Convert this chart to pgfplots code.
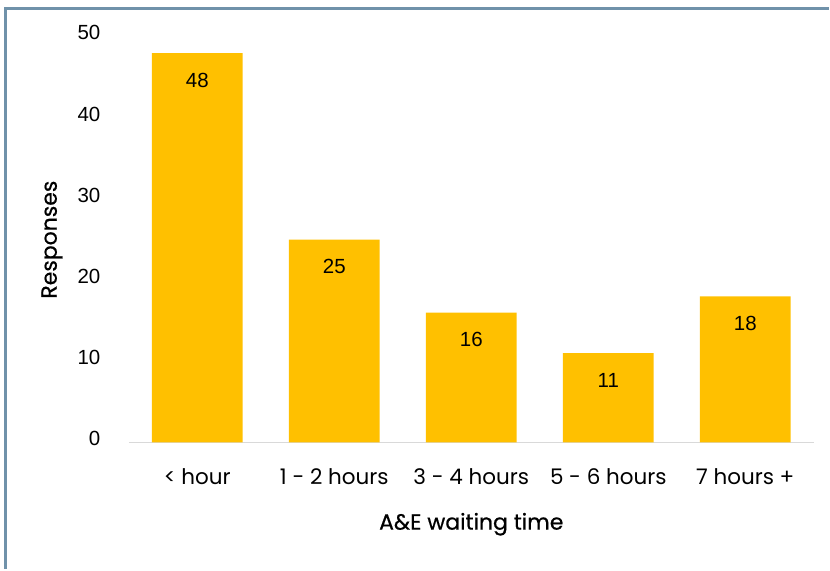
\documentclass[border=0pt]{standalone}
\usepackage{pgfplots}
\pgfplotsset{compat=1.18}
\usepackage{fontspec}
\setmainfont{Poppins}
\newfontfamily\arialf{Liberation Sans}
\newfontfamily\medf{Poppins}[FakeBold=0.6]
\definecolor{barc}{RGB}{255,192,0}
\definecolor{gridc}{RGB}{217,217,217}
\definecolor{framec}{RGB}{112,146,170}
\begin{document}
\begin{tikzpicture}
\begin{axis}[
  scale only axis, width=686pt, height=406pt,
  xmin=-0.5, xmax=4.5, ymin=0, ymax=50,
  ybar, bar width=0.663,
  bar shift=0pt,
  axis x line*=bottom, axis y line=none,
  x axis line style={gridc, line width=1pt},
  ytick={0,10,20,30,40,50},
  ymajorgrids, grid style={gridc, line width=1pt},
  major tick length=0pt,
  xtick={0,1,2,3,4},
  xticklabels={< hour, 1 - 2 hours, 3 - 4 hours, 5 - 6 hours, 7 hours +},
  x tick label style={font=\fontsize{21.5}{24}\selectfont, anchor=center, yshift=-34pt},
  /pgf/number format/assume math mode=true,
  enlargelimits=false, clip=false,
  nodes near coords,
  nodes near coords style={font=\arialf\fontsize{20.5}{24}\selectfont, anchor=center, yshift=-27pt},
]
\addplot[fill=barc, draw=none] coordinates {(0,48) (1,25) (2,16) (3,11) (4,18)};
\pgfplotsinvokeforeach{0,10,20,30,40,50}{
  \node[anchor=east, font=\arialf\fontsize{20.5}{24}\selectfont] at (axis cs:-0.5,#1) [xshift=-25pt, yshift=4pt] {#1};
}
\path (axis cs:-1.4402,54.557) rectangle (axis cs:4.6093,-15.64);
\draw[framec, line width=2.5pt] (axis cs:-1.4001,-15.64) -- (axis cs:-1.4001,53.51) -- (axis cs:4.6093,53.51);
\node[font=\medf\fontsize{22}{26}\selectfont] at (axis cs:2.0,-10.1) {A\&E waiting time};
\node[rotate=90, font=\medf\fontsize{22}{26}\selectfont] at (axis cs:-1.061,25) {Responses};
\end{axis}
\end{tikzpicture}
\end{document}
